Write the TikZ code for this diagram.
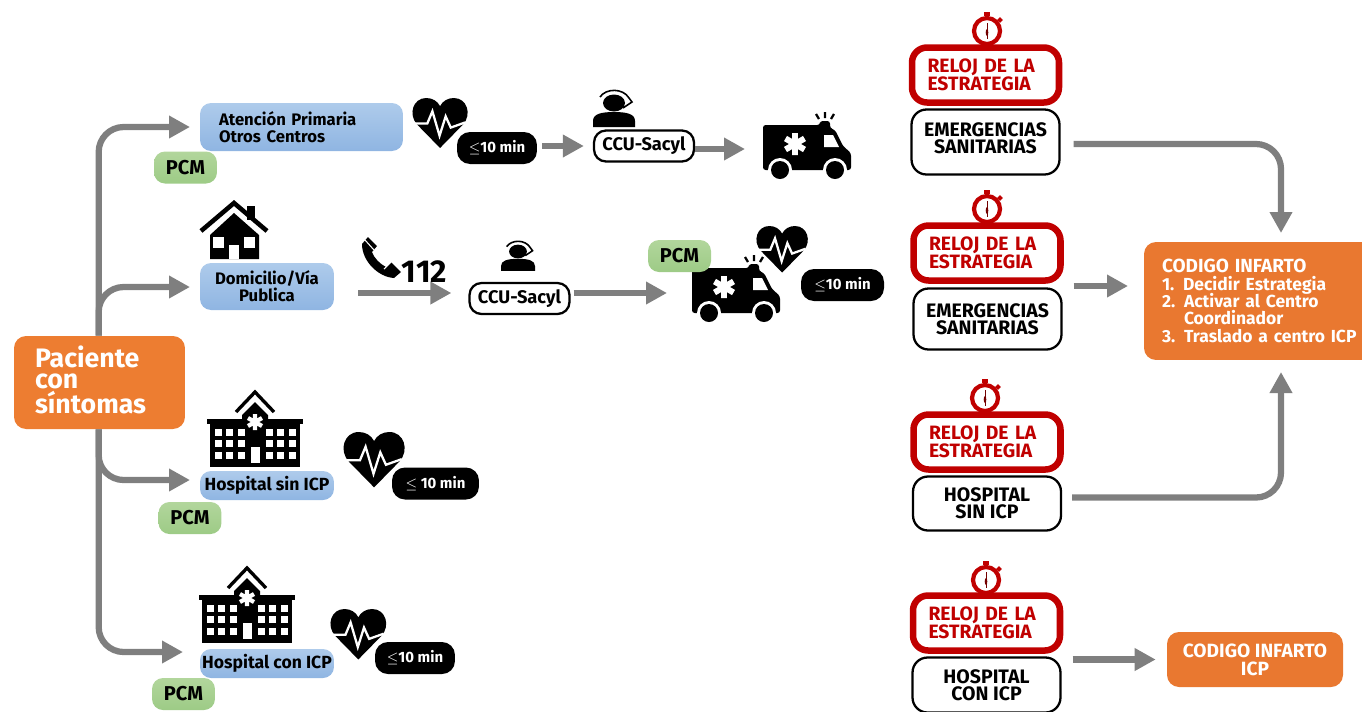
\documentclass[tikz,border=0pt]{standalone}
\usepackage{xcolor}
\usepackage{fontspec}
\setmainfont{Fira Sans}
\usepackage{tikz}
\usetikzlibrary{positioning}
\usetikzlibrary{calc}
\usetikzlibrary{arrows.meta}
\definecolor{grayarrow}{HTML}{7F7F7F}
\definecolor{orangeA}{HTML}{ED7D31}
\definecolor{orangeB}{HTML}{E97830}
\definecolor{blueA}{HTML}{AECBEB}
\definecolor{blueB}{HTML}{8FB5E2}
\definecolor{greenA}{HTML}{B2D69C}
\definecolor{greenB}{HTML}{9DCB86}
\definecolor{redclock}{HTML}{C00000}
\def\fsize#1#2{\fontsize{#1}{#2}\selectfont\bfseries\lineskiplimit=-10pt\relax}
\tikzstyle{arrow} = [line width=0.125cm,draw=grayarrow,-{Triangle[length=0.42cm,width=0.43cm]}]
\tikzstyle{curvearrow} = [arrow,rounded corners=0.5cm]
\tikzstyle{bluebox} = [rounded corners=0.22cm,top color=blueA,bottom color=blueB,inner sep=0pt,font=\fsize{9.5}{9.8}]
\tikzstyle{pcm} = [rounded corners=0.22cm,top color=greenA,bottom color=greenB,inner sep=0pt,minimum width=1.26cm,minimum height=0.64cm,font=\fsize{11.4}{12}]
\tikzstyle{pill} = [rounded corners=0.26cm,fill=black,text=white,inner sep=0pt,minimum height=0.64cm,font=\fsize{8.5}{10}]
\tikzstyle{ccu} = [rounded corners=0.24cm,draw=black,line width=1.3pt,fill=white,inner sep=0pt,minimum width=2.0cm,minimum height=0.62cm,font=\fsize{10.4}{11}]
\tikzstyle{reloj} = [rounded corners=0.3cm,draw=redclock,line width=3.7pt,fill=white,text=redclock,inner sep=0pt,minimum width=2.94cm,minimum height=1.1cm,text width=2.32cm,align=left,font=\fsize{11}{10.2}]
\tikzstyle{dest} = [rounded corners=0.3cm,draw=black,line width=1.3pt,inner sep=0pt,minimum width=2.96cm,align=center,font=\fsize{11.1}{9.9}]
\tikzstyle{codigo} = [rounded corners=0.24cm,fill=orangeB,text=white,inner sep=0pt]
% icons, all with (#1,#2) as top left corner and #3 as scale
\def\icoheart(#1,#2,#3){
  \begin{scope}[shift={(#1,#2)},scale=#3]
    \fill (27.5,49)--(5,26) .. controls (-4,16) and (1,0) .. (14,0) .. controls (20,0) and (25,3) .. (27.5,8) .. controls (30,3) and (35,0) .. (41,0) .. controls (54,0) and (59,16) .. (50,26)--cycle;
    \draw[white,line width=1.3pt] (3,25)--(15,25)--(20,13)--(27,37)--(33,18)--(38,29)--(52,24);
  \end{scope}}
\def\icoamb(#1,#2){
  \begin{scope}[shift={(#1,#2)}]
    \fill[rounded corners=1.5pt] (0,13)--(57,13)--(57,9)--(67,9)--(67,16)--(72,18)--(80,34)--(88,41)--(88,58)--(0,58)--cycle;
    \fill[white] (17,58) circle(12);
    \fill[white] (72,58) circle(12);
    \fill (17,58) circle(9);
    \fill (72,58) circle(9);
    \fill[white] (61,23)--(70,23)--(76,35)--(61,35)--cycle;
    \draw[white,line width=3.4pt] (32,21)--(32,43) (22.5,26.5)--(41.5,37.5) (22.5,37.5)--(41.5,26.5);
    \draw[line width=1.3pt] (62,0)--(62,6) (53,2)--(56,7) (71,2)--(68,7);
  \end{scope}}
\def\icohosp(#1,#2){
  \begin{scope}[shift={(#1,#2)}]
    \draw[line width=1.9pt] (29,22)--(48,2)--(67,22);
    \fill (3,34) rectangle (93,77);
    \fill (0,29) rectangle (96,34);
    \fill (35,30)--(35,25)--(48,12)--(61,25)--(61,30)--cycle;
    \foreach \col in {7.5,19,31,59,70,82}
      \foreach \row in {39,50,62}
        \fill[white] (\col,\row) rectangle ++(7,6.5);
    \fill[white] (44,57) rectangle (53,73);
    \draw[white,line width=2.4pt] (48,24)--(48,40) (41,28)--(55,36) (41,36)--(55,28);
  \end{scope}}
\def\icooper(#1,#2,#3){
  \begin{scope}[shift={(#1,#2)},scale=#3]
    \fill (0,37)--(0,31) .. controls (0,24) and (8,22) .. (21,22) .. controls (34,22) and (42,24) .. (42,31)--(42,37)--cycle;
    \fill (21,13) ellipse (11 and 8.5);
    \draw[line width=0.9pt] (7,7) .. controls (13,-2) and (30,-2) .. (36,8) -- (39,12) -- (30,18);
  \end{scope}}
\def\icoclock(#1,#2){
  \begin{scope}[shift={(#1,#2)}]
    \fill[redclock] (-3,-19) rectangle (3,-15);
    \fill[redclock] (-1.3,-16) rectangle (1.3,-13);
    \fill[redclock,rotate around={45:(13,-11)}] (11,-13) rectangle (15,-9);
    \draw[redclock,line width=2.4pt] (0,0) circle(13);
    \draw[redclock!60!black,line width=0.5pt] (0,-8)--(0,8);
    \fill[redclock!60!black] (0,1.5) ellipse (1.3 and 3.5);
  \end{scope}}
\begin{document}
\begin{tikzpicture}[x=0.02cm,y=-0.02cm]
  \useasboundingbox (0,0) rectangle (1362,711);
  %%%%%%%%%%%%%%%%%%%%%%%%%%%%%%%%%%%%%%%
  \node (pac) at (99.5,382.5) [fill=orangeA,text=white,rounded corners=0.24cm,inner sep=0pt,minimum width=3.42cm,minimum height=1.86cm,font=\fsize{15.2}{11.9}] {\raisebox{-0.075cm}[0pt][0pt]{\parbox{2.58cm}{\raggedright Paciente\\con\\síntomas}}};
  \node (aten) at (301.5,127) [bluebox,minimum width=4.06cm,minimum height=0.96cm,text width=3.3cm,align=left] {Atención Primaria\\Otros Centros};
  \node (domi) at (267,286.5) [bluebox,minimum width=2.68cm,minimum height=0.94cm,align=center] {Domicilio/Vía\\Publica};
  \node (hsin) at (267,485.5) [bluebox,minimum width=2.68cm,minimum height=0.58cm,font=\fsize{10}{10}] {Hospital sin ICP};
  \node (hcon) at (267,663.5) [bluebox,minimum width=2.68cm,minimum height=0.58cm,font=\fsize{10}{10}] {Hospital con ICP};
  %%%%%%%%%%%%%%%%%%%%%%%%%%%%%%%%%%%%%%%
  \icoheart(412,98,1.02)
  \icoheart(756,226,0.95)
  \icoheart(343,432,1.13)
  \icoheart(330,609,1.03)
  \icoamb(763,112)
  \icoamb(692,255)
  \icohosp(207,390)
  \icohosp(199,566)
  \icooper(593,90,1)
  \icooper(501,241,0.81)
  %%%%%%%%%%%%%%%%%%%%%%%%%%%%%%%%%%%%%%%
  % house
  \draw[line width=2.6pt] (201,231)--(234,203)--(267,231);
  \fill (247,206) rectangle (255,220);
  \fill (210,235)--(234,213)--(259,235)--(259,259)--(210,259)--cycle;
  \fill[white] (213,237) rectangle (224,248);
  \fill[white] (244,237) rectangle (255,248);
  \fill[white] (229,245) rectangle (239,259);
  % phone
  \fill (368,237)--(377,246)--(372,252) .. controls (374,258) and (380,264) .. (386,267)--(391,262)--(401,272)--(394,278) .. controls (378,277) and (362,261) .. (362,244)--cycle;
  \draw[white,line width=0.6pt] (365,240)--(374,250) (384,269)--(393,260);
  %%%%%%%%%%%%%%%%%%%%%%%%%%%%%%%%%%%%%%%
  \node (pa1) at (185.5,167.5) [pcm] {PCM};
  \node (pa2) at (679.5,256) [pcm] {PCM};
  \node (pa3) at (190,518) [pcm] {PCM};
  \node (pa4) at (183.5,694) [pcm] {PCM};
  \node (pi1) at (497,148) [pill,minimum width=1.6cm] {$\leq$10 min};
  \node (pi2) at (842.5,285) [pill,minimum width=1.66cm] {$\leq$10 min};
  \node (pi3) at (435.5,483.5) [pill,minimum width=1.74cm] {$\leq$ 10 min};
  \node (pi4) at (415,658) [pill,minimum width=1.6cm] {$\leq$10 min};
  \node (cc1) at (644,146) [ccu] {CCU-Sacyl};
  \node (cc2) at (519.5,298.5) [ccu] {CCU-Sacyl};
  %%%%%%%%%%%%%%%%%%%%%%%%%%%%%%%%%%%%%%%
  \icoclock(987,31)
  \icoclock(987,209)
  \icoclock(985,398)
  \icoclock(986,580)
  \node (re1) at (985.5,75) [reloj] {RELOJ DE LA\\ESTRATEGIA};
  \node (re2) at (987,253) [reloj] {RELOJ DE LA\\ESTRATEGIA};
  \node (re3) at (987,442) [reloj] {RELOJ DE LA\\ESTRATEGIA};
  \node (re4) at (986.5,623) [reloj] {RELOJ DE LA\\ESTRATEGIA};
  \node (em1) at (985.5,142) [dest,minimum height=1.3cm,text depth=0.16cm] {EMERGENCIAS\\SANITARIAS};
  \node (em2) at (987.5,319) [dest,minimum height=1.22cm] {EMERGENCIAS\\SANITARIAS};
  \node (ho1) at (987,503.5) [dest,minimum height=1.08cm] {HOSPITAL\\SIN ICP};
  \node (ho2) at (986.5,685) [dest,minimum height=1.1cm] {HOSPITAL\\CON ICP};
  \node (cod) at (1269,301) [codigo,minimum width=5cm,minimum height=2.36cm,text width=4.28cm,align=left,font=\fsize{9.95}{9.9}] {{\fontsize{10.8}{9.9}\selectfont CODIGO INFARTO}\\1. Decidir Estrategia\\2. Activar al Centro\\\phantom{2. }Coordinador\\3. Traslado a centro ICP};
  \node (cin) at (1255,659.5) [codigo,minimum width=3.52cm,minimum height=1.1cm,align=center,font=\fsize{10.9}{10.2}] {CODIGO INFARTO\\ICP};
  %%%%%%%%%%%%%%%%%%%%%%%%%%%%%%%%%%%%%%%
  \coordinate (tr) at ($(pac.north west)+(85,0)$);
  \coordinate (br) at ($(pac.south west)+(85,0)$);
  \coordinate (a1) at (190,127);
  \coordinate (a2) at (190,287);
  \coordinate (a3) at (190,480);
  \coordinate (a4) at (183,652);
  \coordinate (ph) at (358,293);
  \coordinate (am1) at (745,149);
  \coordinate (am2) at (667,293);
  \coordinate (c1) at (1281,233);
  \coordinate (c2) at (1128,286);
  \coordinate (c3) at (1281,372);
  \draw[curvearrow] (tr) |- (a1);
  \draw[curvearrow] (tr) |- (a2);
  \draw[curvearrow] (br) |- (a3);
  \draw[curvearrow] (br) |- (a4);
  \draw[arrow,shorten <=0.1cm,shorten >=0.18cm] (pi1.east |- cc1.west) -- (cc1.west);
  \draw[arrow] (cc1.east |- am1) -- (am1);
  \draw[arrow,shorten >=0.34cm] (ph) -- (ph -| cc2.west);
  \draw[arrow,shorten <=0.06cm] (cc2.east |- am2) -- (am2);
  \draw[curvearrow,shorten <=0.26cm] ($(em1.east)+(0,2)$) -| (c1);
  \draw[arrow,shorten <=0.22cm] (em2.east |- c2) -- (c2);
  \draw[curvearrow,shorten <=0.2cm] ($(ho1.east)+(0,-6)$) -| (c3);
  \draw[arrow,shorten <=0.22cm,shorten >=0.22cm] (ho2.east |- cin.west) -- (cin.west);
  \node (num) at (424.5,271.5) [inner sep=0pt,font=\fsize{18}{18}] {112};
\end{tikzpicture}
\end{document}
